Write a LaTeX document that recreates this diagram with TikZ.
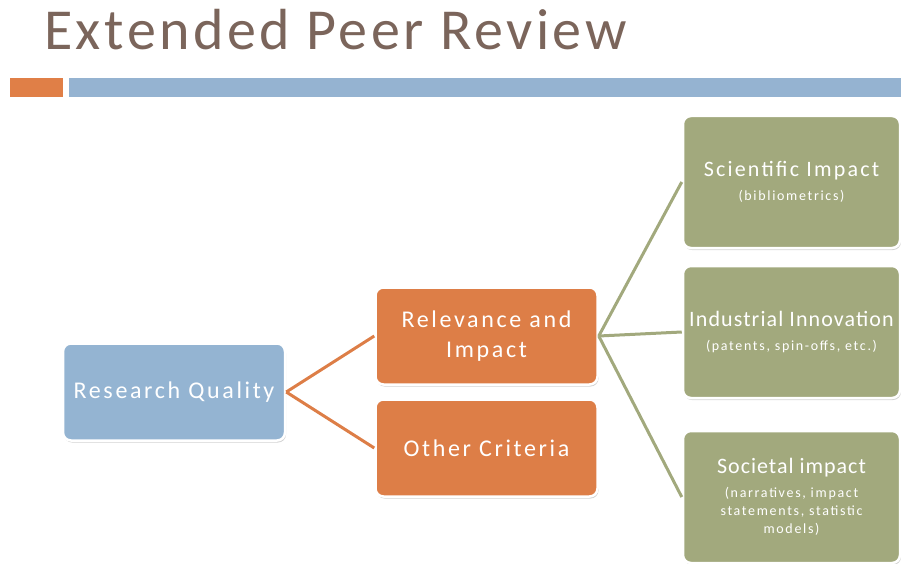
\documentclass[tikz,border=0pt]{standalone}
\usepackage{fontspec}
\setmainfont{Carlito}
\newfontfamily\headfont[LetterSpace=6]{Carlito}
\newfontfamily\boxfont[LetterSpace=11]{Carlito}
\newfontfamily\notefam[LetterSpace=12]{Carlito}
\newcommand\imptitle[1]{\fontsize{22}{22}\selectfont\addfontfeature{LetterSpace=#1}}
\usetikzlibrary{positioning,shadows}
\definecolor{titlebrown}{HTML}{7B655B}
\definecolor{barorange}{HTML}{E07F47}
\definecolor{barblue}{HTML}{95B3D1}
\definecolor{qualblue}{HTML}{94B4D2}
\definecolor{critorange}{HTML}{DD7E47}
\definecolor{impgreen}{HTML}{A2A97D}
\begin{document}
\begin{tikzpicture}[
        x=1pt, y=-1pt,
        block/.style={rectangle, rounded corners=8pt, draw=white, line width=2.5pt, text=white,
            align=center, font=\boxfont\fontsize{24}{30}\selectfont, inner sep=2pt,
            minimum width=222pt, minimum height=97pt,
            drop shadow={opacity=0.35, shadow xshift=1pt, shadow yshift=-2pt}},
        impact/.style={block, fill=impgreen, minimum width=217pt, minimum height=132pt,
            font=\notefam\fontsize{14}{18}\selectfont},
        link/.style={draw, line width=3pt}
    ]
        \clip (0,0) rectangle (901,564);
        \useasboundingbox (0,0) rectangle (901,564);

        % title and bars
        \node [anchor=base west, inner sep=0pt, text=titlebrown,
            font=\headfont\fontsize{58}{58}\selectfont] (title) at (44,50) {Extended Peer Review};
        \fill [barorange] (10,78) rectangle (63,97);
        \fill [barblue] (69,78) rectangle (901,97);

        % blocks
        \node [block, fill=qualblue] (quality) at (174,392) {Research Quality};
        \node [block, fill=critorange, right=88pt of quality, yshift=56pt] (relevance) {Relevance and\\Impact};
        \node [block, fill=critorange, right=88pt of quality, yshift=-56pt] (other) {Other Criteria};
        \node [impact] (science) at (791.5,182) {\imptitle{10}Scientific Impact\\[6pt](bibliometrics)};
        \node [impact] (industry) at (791.5,332) {\imptitle{5}Industrial Innovation\\[6pt](patents, spin-offs, etc.)};
        \node [impact] (society) at (791.5,497) {\imptitle{4.5}Societal impact\\[6pt](narratives, impact\\statements, statistic\\models)};

        % connectors
        \path [link, critorange] (quality.east) -- (relevance.west);
        \path [link, critorange] (quality.east) -- (other.west);
        \path [link, impgreen] (relevance.east) -- (science.west);
        \path [link, impgreen] (relevance.east) -- (industry.west);
        \path [link, impgreen] (relevance.east) -- (society.west);
    \end{tikzpicture}
\end{document}
